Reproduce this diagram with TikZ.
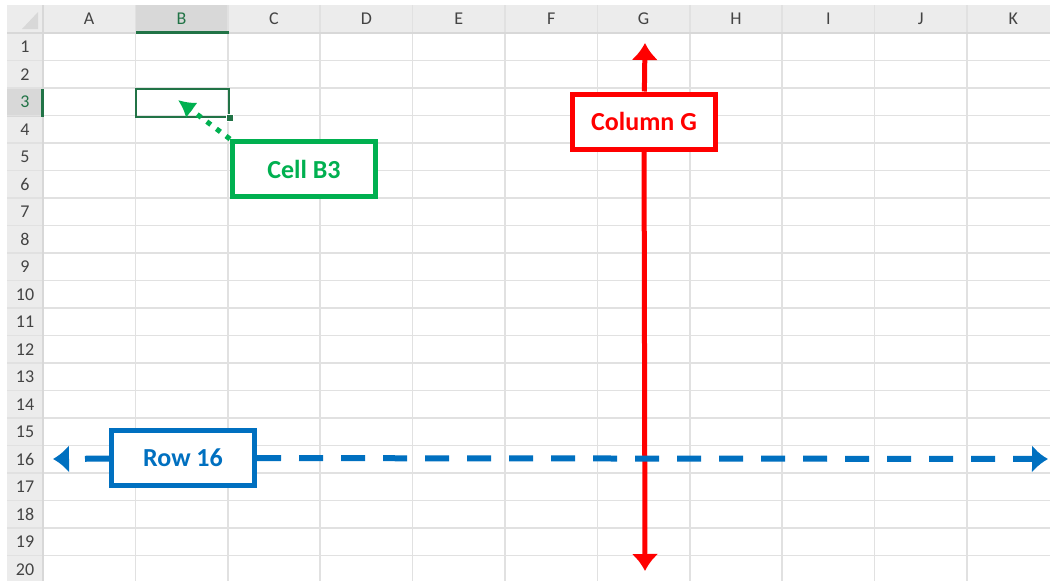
\documentclass[tikz,border=0pt]{standalone}
\usepackage{fontspec}
\setmainfont{Carlito}
\usetikzlibrary{arrows.meta}

\definecolor{xlgreen}{HTML}{217346}
\definecolor{tagGreen}{HTML}{00B050}
\definecolor{tagRed}{HTML}{FF0000}
\definecolor{tagBlue}{HTML}{0070C0}
\definecolor{hdrBg}{HTML}{ECECEC}
\definecolor{hdrSel}{HTML}{D8D8D8}
\definecolor{hdrText}{HTML}{444444}
\definecolor{gridGray}{HTML}{E1E1E1}

\begin{document}
\begin{tikzpicture}[
	x=1pt, y=-1pt,
	note/.style={
		rectangle,
		draw=#1,
		text=#1,
		fill=white,
		line width=5pt,
		minimum width=143pt,
		minimum height=55pt,
		font=\fontsize{26}{30}\selectfont\bfseries
	},
	hdr/.style={
		inner sep=0pt,
		text=hdrText,
		font=\fontsize{18}{18}\selectfont
	},
	ArrowW/.style={% wide straight arrows
		line width=5pt,
	},
]
	\useasboundingbox[fill=white] (0,0) rectangle (1050,581);

	% sheet headers
	\fill[hdrBg] (7,5) rectangle (1050,33);
	\fill[hdrBg] (7,33) rectangle (43,581);
	\fill[hdrSel] (136,5) rectangle (229,33);
	\fill[hdrSel] (7,89) rectangle (43,117);
	\fill[hdrSel] (38,12) -- (38,29) -- (22,29) -- cycle;

	% grid
	\foreach \i in {1,...,11}
		\draw[gridGray, line width=1.5pt] (43+92.4*\i,5) -- (43+92.4*\i,581);
	\foreach \j in {1,...,19}
		\draw[gridGray, line width=1.5pt] (7,33+27.5*\j) -- (1050,33+27.5*\j);
	\draw[hdrSel, line width=1.5pt] (43,5) -- (43,581);
	\draw[hdrSel, line width=1.5pt] (7,33) -- (1050,33);
	\draw[xlgreen, line width=3pt] (136,32) -- (229,32);
	\draw[xlgreen, line width=3pt] (42,89) -- (42,117);

	\foreach \c [count=\i] in {A,...,K}
		\node [hdr] (col\c) at (43+92.4*\i-46.2,19) {\ifnum\i=2\color{xlgreen}\fi\c};
	\foreach \r in {1,...,20}
		\node [hdr] (row\r) at (25,19.25+27.5*\r) {\ifnum\r=3\color{xlgreen}\fi\r};

	% selected cell
	\node [draw=xlgreen, line width=2.5pt, inner sep=0pt,
		minimum width=93pt, minimum height=28pt] (selB3) at (182.5,103) {};
	\node [fill=xlgreen, draw=white, line width=1pt, inner sep=0pt,
		minimum size=7pt] (handle) at (selB3.south east) {};

	% callouts
	\node [note=tagGreen] (b3) at (304,169) {Cell B3};
	\node [note=tagRed] (colG) at (644,121.5) {Column G};
	\node [note=tagBlue] (row16) at (183,458) {Row 16};

	\coordinate (b3pt) at (178,100);
	\coordinate (gtop) at (645,43);
	\coordinate (gbot) at (645,571);
	\coordinate (rleft) at (53,459);
	\coordinate (rright) at (1048,459);

	\draw [tagGreen, line width=5pt, dash pattern=on 5pt off 7pt,
		-{Latex[length=17pt,width=19pt]}] (b3.north west) -- (b3pt);

	\draw [tagRed, ArrowW, -{Latex[length=17pt,width=27pt]}] (colG) -- (gtop);
	\draw [tagRed, ArrowW, -{Latex[length=17pt,width=27pt]}] (colG) -- (gbot);

	\draw [tagBlue, ArrowW, line width=6pt, dash pattern=on 24pt off 18pt,
		-{Latex[length=16pt,width=28pt]}] (row16) -- (rright);
	\draw [tagBlue, ArrowW, line width=6pt, dash pattern=on 24pt off 18pt,
		-{Latex[length=16pt,width=28pt]}] (row16) -- (rleft);
\end{tikzpicture}
\end{document}
